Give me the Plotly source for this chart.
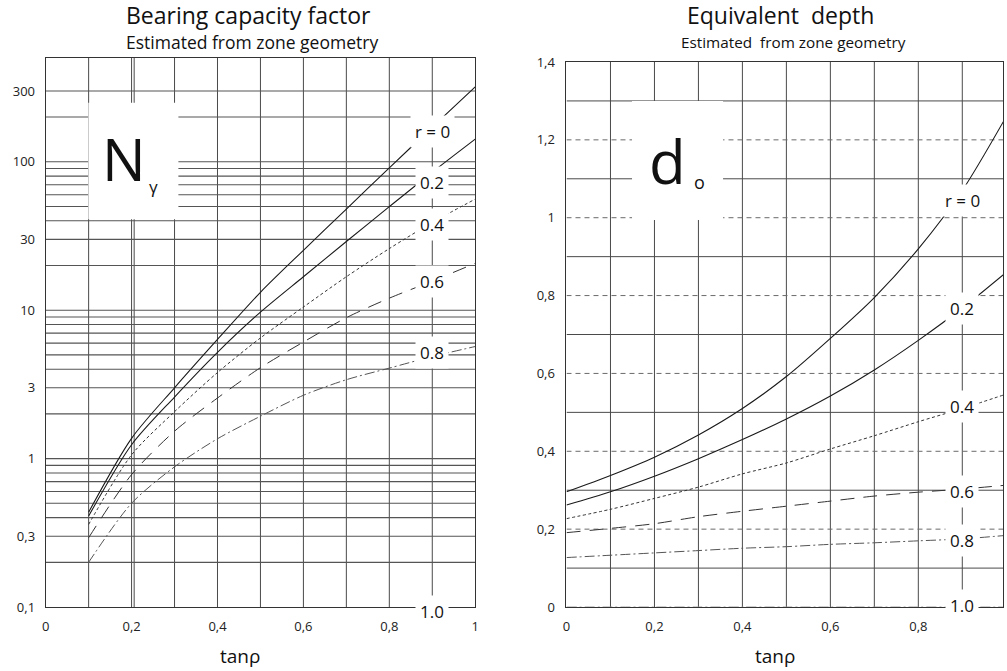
import math
import plotly.graph_objects as go

W, H = 1007, 671
FONT = "Open Sans"

# ---------------- data ----------------
x_left = [0.1, 0.2, 0.3, 0.4, 0.5, 0.6, 0.7, 0.8, 0.9, 1.0]
ng_r00 = [0.435, 1.37, 3.0, 6.35, 13.2, 25.3, 48, 91, 171, 320]
ng_r02 = [0.41, 1.24, 2.6, 5.2, 9.7, 16.8, 29, 49.8, 85, 142]
ng_r04 = [0.36, 1.06, 2.07, 3.8, 6.5, 10.5, 16.8, 26, 39, 56]
ng_r06 = [0.293, 0.78, 1.53, 2.56, 4.1, 6.1, 8.9, 12.05, 15.7, 20.7]
ng_r08 = [0.2, 0.50, 0.88, 1.36, 1.93, 2.67, 3.4, 4.07, 4.87, 5.69]

x_right = [0.0, 0.1, 0.2, 0.3, 0.4, 0.5, 0.6, 0.7, 0.8, 0.9, 1.0]
d_r00 = [0.296, 0.338, 0.385, 0.442, 0.51, 0.592, 0.69, 0.795, 0.92, 1.07, 1.26]
d_r02 = [0.262, 0.296, 0.336, 0.381, 0.43, 0.483, 0.542, 0.609, 0.685, 0.768, 0.86]
d_r04 = [0.227, 0.251, 0.279, 0.308, 0.342, 0.37, 0.406, 0.44, 0.476, 0.51, 0.547]
d_r06 = [0.191, 0.202, 0.214, 0.232, 0.246, 0.259, 0.272, 0.285, 0.295, 0.303, 0.313]
d_r08 = [0.127, 0.133, 0.139, 0.145, 0.151, 0.155, 0.161, 0.165, 0.17, 0.175, 0.184]
d_r10 = [0.0] * 11

r_labels = ["r = 0", "0.2", "0.4", "0.6", "0.8", "1.0"]

# tick labels
lx_ticks = [0, 0.2, 0.4, 0.6, 0.8, 1.0]
lx_text = ["0", "0,2", "0,4", "0,6", "0,8", "1"]
ly_ticks = [0.1, 0.3, 1, 3, 10, 30, 100, 300]
ly_text = ["0,1", "0,3", "1", "3", "10", "30", "100", "300"]
rx_ticks = [0, 0.2, 0.4, 0.6, 0.8, 1.0]
rx_text = ["0", "0,2", "0,4", "0,6", "0,8", "1"]
ry_ticks = [0, 0.2, 0.4, 0.6, 0.8, 1.0, 1.2, 1.4]
ry_text = ["0", "0,2", "0,4", "0,6", "0,8", "1", "1,2", "1,4"]

# grid values
lgrid_x = [0.1, 0.2, 0.206, 0.3, 0.4, 0.5, 0.6, 0.7, 0.8, 0.9]
lgrid_y = [0.2, 0.3, 0.4, 0.5, 0.6, 0.7, 0.8, 0.9,
           1, 2, 3, 4, 5, 6, 7, 8, 9,
           10, 20, 30, 40, 50, 60, 70, 80, 90,
           100, 200, 300]
rgrid_x = [0.1, 0.2, 0.3, 0.4, 0.5, 0.6, 0.7, 0.8, 0.9]
rgrid_solid = [0.1, 0.3, 0.5, 0.7, 0.9, 1.1, 1.3]
rgrid_dash = [0.2, 0.4, 0.6, 0.8, 1.0, 1.2]

# ---------------- layout geometry ----------------
BOT = 608
L_X0, L_X1, L_TOP = 42, 475, 57
R_X0, R_X1, R_TOP = 567, 1007, 61
R_XMAX = (R_X1 - R_X0) / 443.3

def px(v):
    return v / W

def py(v):
    # vertical placement compensation for the capture
    yl = v / 0.9767 - 8
    return 1 - yl / H

fig = go.Figure()

styles = [
    dict(color="#1a1a1a", width=1.1),
    dict(color="#1a1a1a", width=1.1),
    dict(color="#333333", width=1, dash="3px,2.5px"),
    dict(color="#333333", width=1, dash="14px,9px"),
    dict(color="#555555", width=1, dash="10px,3px,2px,3px"),
    dict(color="#999999", width=1, dash="10px,3px,2px,3px"),
]

for ys, st in zip([ng_r00, ng_r02, ng_r04, ng_r06, ng_r08], styles):
    fig.add_trace(go.Scatter(x=x_left, y=ys, mode="lines", line=dict(shape="spline", smoothing=0.8, **st),
                             xaxis="x", yaxis="y", showlegend=False, hoverinfo="skip"))
for ys, st in zip([d_r00, d_r02, d_r04, d_r06, d_r08, d_r10], styles):
    fig.add_trace(go.Scatter(x=x_right, y=ys, mode="lines", line=dict(shape="spline", smoothing=0.8, **st),
                             xaxis="x2", yaxis="y2", showlegend=False, hoverinfo="skip"))

shapes = []
GC = "#4a4a4a"
# left grid
for gx in lgrid_x:
    shapes.append(dict(type="line", xref="x", yref="y", x0=gx, x1=gx, y0=0.1, y1=500,
                       line=dict(color=GC, width=1), layer="below"))
for gy in lgrid_y:
    shapes.append(dict(type="line", xref="x", yref="y", x0=0, x1=1, y0=gy, y1=gy,
                       line=dict(color="#555555", width=1.1), layer="below"))
# white box behind N_gamma
shapes.append(dict(type="rect", xref="x", yref="y", x0=0.0993, x1=0.309, y0=41, y1=250,
                   fillcolor="white", line=dict(width=0), layer="below"))
# right grid
for gx in rgrid_x:
    shapes.append(dict(type="line", xref="x2", yref="y2", x0=gx, x1=gx, y0=0, y1=1.4,
                       line=dict(color=GC, width=1), layer="below"))
for gy in rgrid_solid:
    shapes.append(dict(type="line", xref="x2", yref="y2", x0=0, x1=1.0, y0=gy, y1=gy,
                       line=dict(color=GC, width=1), layer="below"))
for gy in rgrid_dash:
    shapes.append(dict(type="line", xref="x2", yref="y2", x0=0, x1=1.0, y0=gy, y1=gy,
                       line=dict(color="#6a6a6a", width=1, dash="5px,4px"), layer="below"))
shapes.append(dict(type="rect", xref="x2", yref="y2", x0=0.149, x1=0.356, y0=0.994, y1=1.3,
                   fillcolor="white", line=dict(width=0), layer="below"))

annotations = []

def ann(text, x, y, size, **kw):
    d = dict(text=text, x=px(x), y=py(y), xref="paper", yref="paper", showarrow=False,
             font=dict(family=FONT, size=size, color="#111111"), xanchor="center", yanchor="middle")
    d.update(kw)
    annotations.append(d)

ann("Bearing capacity factor", 246, 14, 23)
ann("Estimated from zone geometry", 250, 41, 17.5)
ann("Equivalent\u00a0\u00a0depth", 783, 14, 23)
ann("Estimated\u00a0\u00a0from zone geometry", 796, 41, 15.3)
ann("tan\u03c1", 238, 657, 19)
ann("tan\u03c1", 777, 657, 19)
ann("N", 121, 158, 58)
ann("\u03b3", 151, 186, 17)
ann("d", 669, 160, 60)
ann("o", 701, 181, 18)

# curve labels (left: log positions; right: linear)
left_label_y = [2.202, 1.86, 1.579, 1.19, 0.715, -0.999]
left_label_shift = [0, 0, 0, 0, 0, -5]
right_label_y = [1.044, 0.768, 0.514, 0.297, 0.171, 0.004]
for t, yv, sh in zip(r_labels, left_label_y, left_label_shift):
    annotations.append(dict(text=t, x=0.9, y=yv, xref="x", yref="y", showarrow=False, yshift=sh,
                            font=dict(family=FONT, size=17, color="#111111"),
                            bgcolor="white", borderpad=4))
for t, yv in zip(r_labels, right_label_y):
    annotations.append(dict(text=t, x=0.9, y=yv, xref="x2", yref="y2", showarrow=False,
                            font=dict(family=FONT, size=17, color="#111111"),
                            bgcolor="white", borderpad=4))

axis_common = dict(showgrid=False, zeroline=False, showline=True, linecolor="#333333",
                   linewidth=1, mirror=True, ticks="", tickfont=dict(family=FONT, size=13, color="#222"))

fig.update_layout(
    width=W, height=H, autosize=False,
    margin=dict(l=0, r=0, t=0, b=0),
    paper_bgcolor="white", plot_bgcolor="white",
    shapes=shapes, annotations=annotations,
    xaxis=dict(domain=[px(L_X0), px(L_X1)], range=[0, 1], tickvals=lx_ticks, ticktext=lx_text,
               anchor="y", ticklabelstandoff=7, **axis_common),
    yaxis=dict(domain=[py(BOT), py(L_TOP)], type="log", range=[-1, math.log10(500)],
               tickvals=ly_ticks, ticktext=ly_text, anchor="x", ticklabelstandoff=7, **axis_common),
    xaxis2=dict(domain=[px(R_X0), px(R_X1)], range=[0, R_XMAX], tickvals=rx_ticks, ticktext=rx_text,
                anchor="y2", ticklabelstandoff=7, **axis_common),
    yaxis2=dict(domain=[py(BOT), py(R_TOP)], range=[0, 1.4], tickvals=ry_ticks, ticktext=ry_text,
                anchor="x2", ticklabelstandoff=8, **axis_common),
)

fig.write_html("out.html")
